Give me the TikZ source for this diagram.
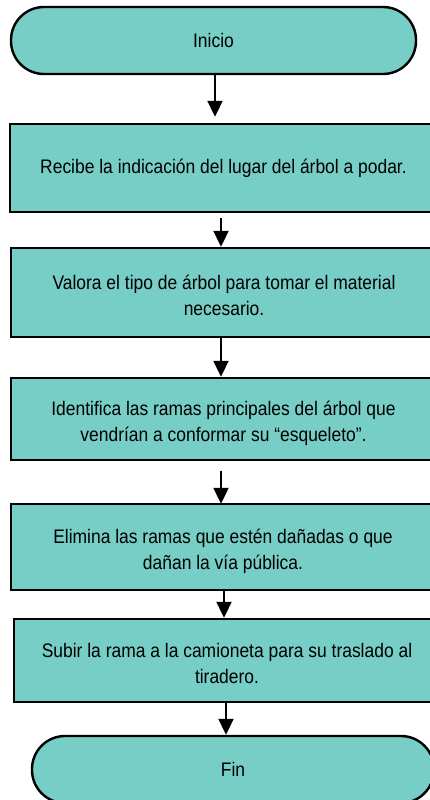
\documentclass[tikz,border=0pt]{standalone}
\usepackage{fontspec}
\setmainfont{Liberation Sans}[FakeStretch=0.89]
\usetikzlibrary{arrows.meta}
\definecolor{tealfill}{RGB}{118,206,198}
\begin{document}
\begin{tikzpicture}[x=1pt,y=-1pt,
  box/.style={draw=black, line width=2.4pt, fill=tealfill, inner sep=0pt,
    align=center, font=\fontsize{19.6pt}{26pt}\selectfont},
  two/.style={text height=49pt, text depth=4pt},
  term/.style={box, rounded corners=33pt},
  arr/.style={line width=2pt, -{Triangle[width=15pt,length=16pt]}}]
\useasboundingbox (0,0) rectangle (430,800);
\clip (0,0) rectangle (430,800);
\node[term, minimum width=405pt, minimum height=67pt] (inicio) at (213.5,40.5) {Inicio};
\node[box, minimum width=427pt, minimum height=88pt] (b1) at (223.5,168) {Recibe la indicación del lugar del árbol a podar.};
\node[box, two, minimum width=426pt, minimum height=89pt] (b2) at (224,292.5) {Valora el tipo de árbol para tomar el material\\necesario.};
\node[box, two, minimum width=425pt, minimum height=82pt] (b3) at (223.5,419) {Identifica las ramas principales del árbol que\\vendrían a conformar su “esqueleto”.};
\node[box, two, minimum width=424pt, minimum height=86pt] (b4) at (223,547) {Elimina las ramas que estén dañadas o que\\dañan la vía pública.};
\node[box, two, minimum width=426pt, minimum height=83pt] (b5) at (227,660.5) {Subir la rama a la camioneta para su traslado al\\tiradero.};
\node[term, minimum width=402pt, minimum height=67pt] (fin) at (233,769.5) {Fin};
\draw[arr] ([xshift=1.5pt]inicio.south) -- ([xshift=-8.5pt,yshift=6pt]b1.north);
\draw[arr] ([xshift=-2.5pt,yshift=-5pt]b1.south) -- ([xshift=-3pt]b2.north);
\draw[arr] ([xshift=-3pt]b2.south) -- ([xshift=-2.5pt]b3.north);
\draw[arr] ([xshift=-2.5pt,yshift=-10pt]b3.south) -- ([xshift=-2pt,yshift=-1pt]b4.north);
\draw[arr] ([xshift=1pt]b4.south) -- ([xshift=-3pt]b5.north);
\draw[arr] ([xshift=-1pt]b5.south) -- ([xshift=-7pt]fin.north);
\end{tikzpicture}
\end{document}
